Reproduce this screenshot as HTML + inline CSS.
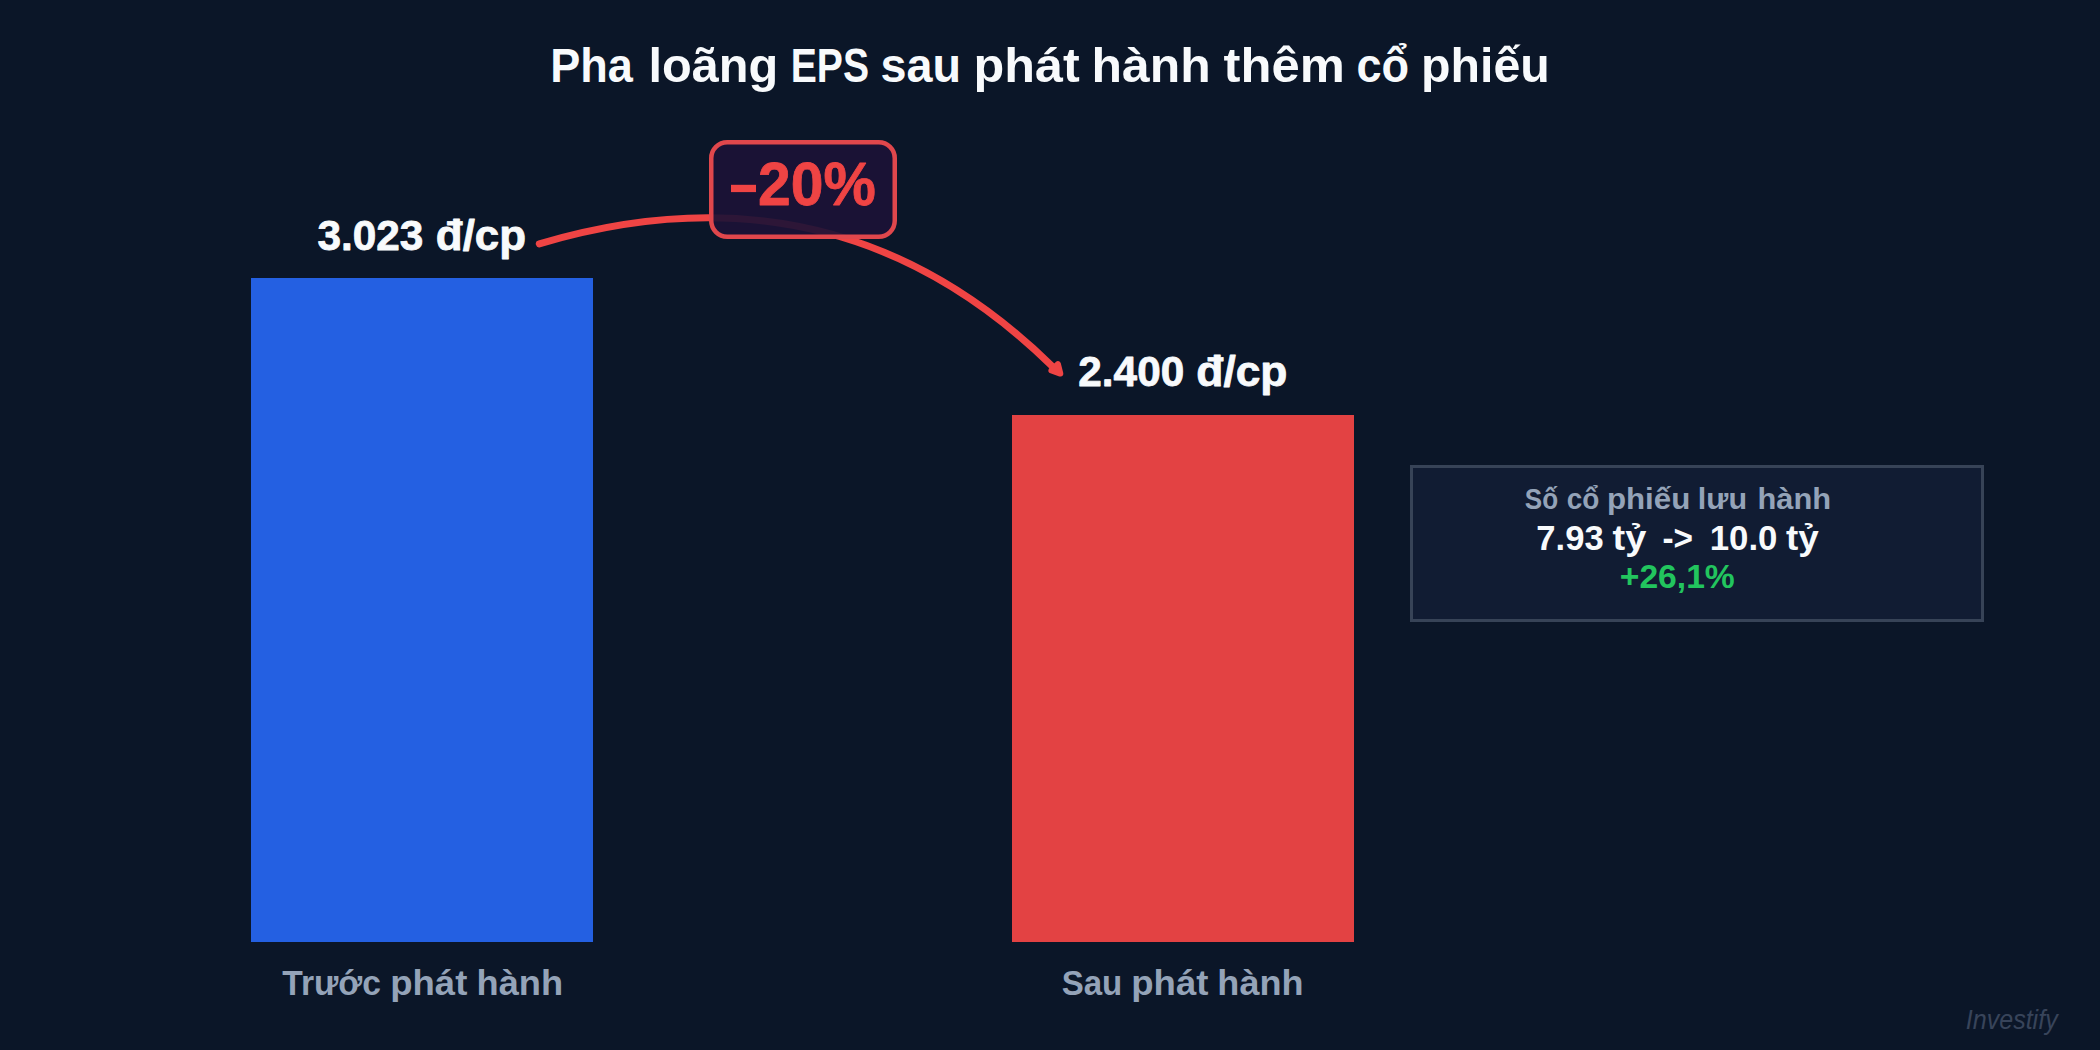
<!DOCTYPE html>
<html><head><meta charset="utf-8">
<style>
html,body{margin:0;padding:0;background:#0b1628;}
body{width:2100px;height:1050px;overflow:hidden;}
svg{display:block;}
text{font-family:"Liberation Sans",sans-serif;}
</style></head>
<body>
<svg width="2100" height="1050" viewBox="0 0 2100 1050">
<rect x="0" y="0" width="2100" height="1050" fill="#0b1628"/>
<rect x="251" y="278" width="342" height="664" fill="#2460e2"/>
<rect x="1012" y="415" width="342" height="527" fill="#e34243"/>
<path d="M539.3,243.8 Q837.6,155.4 1053,367" fill="none" stroke="#ef4444" stroke-width="7" stroke-linecap="round"/>
<polygon points="1060.3,373.6 1051.4,370.5 1057.9,364.1" fill="#ef4444" stroke="#ef4444" stroke-width="6" stroke-linejoin="round"/>
<rect x="711.25" y="142.25" width="183.5" height="94.5" rx="16" ry="16" fill="#1c1236" fill-opacity="0.92" stroke="#e0474c" stroke-width="4.5"/>
<rect x="731" y="184.8" width="25" height="7.3" fill="#ef4444"/>
<rect x="1411.5" y="466.5" width="571" height="154" fill="#111c33" stroke="#374357" stroke-width="3"/>
<text x="591.62" y="82.2" text-anchor="middle" font-size="48" font-weight="700" fill="#f8fafc" textLength="82.63" lengthAdjust="spacingAndGlyphs">Pha</text>
<text x="713.36" y="82.2" text-anchor="middle" font-size="48" font-weight="700" fill="#f8fafc" textLength="129.76" lengthAdjust="spacingAndGlyphs">loãng</text>
<text x="829.88" y="82.2" text-anchor="middle" font-size="48" font-weight="700" fill="#f8fafc" textLength="78.29" lengthAdjust="spacingAndGlyphs">EPS</text>
<text x="920.87" y="82.2" text-anchor="middle" font-size="48" font-weight="700" fill="#f8fafc" textLength="80.56" lengthAdjust="spacingAndGlyphs">sau</text>
<text x="1026.63" y="82.2" text-anchor="middle" font-size="48" font-weight="700" fill="#f8fafc" textLength="106.19" lengthAdjust="spacingAndGlyphs">phát</text>
<text x="1151.09" y="82.2" text-anchor="middle" font-size="48" font-weight="700" fill="#f8fafc" textLength="119.12" lengthAdjust="spacingAndGlyphs">hành</text>
<text x="1284.17" y="82.2" text-anchor="middle" font-size="48" font-weight="700" fill="#f8fafc" textLength="121.21" lengthAdjust="spacingAndGlyphs">thêm</text>
<text x="1382.77" y="82.2" text-anchor="middle" font-size="48" font-weight="700" fill="#f8fafc" textLength="52.61" lengthAdjust="spacingAndGlyphs">cổ</text>
<text x="1485.47" y="82.2" text-anchor="middle" font-size="48" font-weight="700" fill="#f8fafc" textLength="128.80" lengthAdjust="spacingAndGlyphs">phiếu</text>
<text x="370.35" y="249.9" text-anchor="middle" font-size="42.4" font-weight="700" fill="#f8fafc" stroke="#f8fafc" stroke-width="0.8" stroke-linejoin="round" textLength="105.94" lengthAdjust="spacingAndGlyphs">3.023</text>
<text x="480.95" y="249.9" text-anchor="middle" font-size="42.4" font-weight="700" fill="#f8fafc" stroke="#f8fafc" stroke-width="0.8" stroke-linejoin="round" textLength="90.23" lengthAdjust="spacingAndGlyphs">đ/cp</text>
<text x="1131.27" y="385.7" text-anchor="middle" font-size="42.4" font-weight="700" fill="#f8fafc" stroke="#f8fafc" stroke-width="0.8" stroke-linejoin="round" textLength="105.86" lengthAdjust="spacingAndGlyphs">2.400</text>
<text x="1241.89" y="385.7" text-anchor="middle" font-size="42.4" font-weight="700" fill="#f8fafc" stroke="#f8fafc" stroke-width="0.8" stroke-linejoin="round" textLength="91.13" lengthAdjust="spacingAndGlyphs">đ/cp</text>
<text x="816.84" y="204.8" text-anchor="middle" font-size="61.6" font-weight="700" fill="#ef4444" stroke="#ef4444" stroke-width="0.8" stroke-linejoin="round" textLength="117.77" lengthAdjust="spacingAndGlyphs">20%</text>
<text x="1541.49" y="508.9" text-anchor="middle" font-size="29.8" font-weight="700" fill="#94a3b8" textLength="33.30" lengthAdjust="spacingAndGlyphs">Số</text>
<text x="1583.04" y="508.9" text-anchor="middle" font-size="29.8" font-weight="700" fill="#94a3b8" textLength="32.65" lengthAdjust="spacingAndGlyphs">cổ</text>
<text x="1648.63" y="508.9" text-anchor="middle" font-size="29.8" font-weight="700" fill="#94a3b8" textLength="83.43" lengthAdjust="spacingAndGlyphs">phiếu</text>
<text x="1722.44" y="508.9" text-anchor="middle" font-size="29.8" font-weight="700" fill="#94a3b8" textLength="49.20" lengthAdjust="spacingAndGlyphs">lưu</text>
<text x="1794.33" y="508.9" text-anchor="middle" font-size="29.8" font-weight="700" fill="#94a3b8" textLength="73.64" lengthAdjust="spacingAndGlyphs">hành</text>
<text x="1569.96" y="550" text-anchor="middle" font-size="34.5" font-weight="700" fill="#f8fafc" textLength="67.37" lengthAdjust="spacingAndGlyphs">7.93</text>
<text x="1629.43" y="550" text-anchor="middle" font-size="34.5" font-weight="700" fill="#f8fafc" textLength="33.77" lengthAdjust="spacingAndGlyphs">tỷ</text>
<text x="1677.78" y="550" text-anchor="middle" font-size="34.5" font-weight="700" fill="#f8fafc" textLength="30.55" lengthAdjust="spacingAndGlyphs">-&gt;</text>
<text x="1743.57" y="550" text-anchor="middle" font-size="34.5" font-weight="700" fill="#f8fafc" textLength="67.76" lengthAdjust="spacingAndGlyphs">10.0</text>
<text x="1802.34" y="550" text-anchor="middle" font-size="34.5" font-weight="700" fill="#f8fafc" textLength="32.79" lengthAdjust="spacingAndGlyphs">tỷ</text>
<text x="1677.26" y="587.5" text-anchor="middle" font-size="34.1" font-weight="700" fill="#22c55e" textLength="115.00" lengthAdjust="spacingAndGlyphs">+26,1%</text>
<text x="331.60" y="995" text-anchor="middle" font-size="35" font-weight="700" fill="#94a3b8" textLength="98.75" lengthAdjust="spacingAndGlyphs">Trước</text>
<text x="428.75" y="995" text-anchor="middle" font-size="35" font-weight="700" fill="#94a3b8" textLength="77.14" lengthAdjust="spacingAndGlyphs">phát</text>
<text x="519.84" y="995" text-anchor="middle" font-size="35" font-weight="700" fill="#94a3b8" textLength="86.62" lengthAdjust="spacingAndGlyphs">hành</text>
<text x="1092.01" y="995" text-anchor="middle" font-size="35" font-weight="700" fill="#94a3b8" textLength="60.62" lengthAdjust="spacingAndGlyphs">Sau</text>
<text x="1169.81" y="995" text-anchor="middle" font-size="35" font-weight="700" fill="#94a3b8" textLength="77.18" lengthAdjust="spacingAndGlyphs">phát</text>
<text x="1260.46" y="995" text-anchor="middle" font-size="35" font-weight="700" fill="#94a3b8" textLength="86.25" lengthAdjust="spacingAndGlyphs">hành</text>
<text x="2011.73" y="1029" text-anchor="middle" font-size="27" font-weight="400" font-style="italic" fill="#38445a" textLength="91.89" lengthAdjust="spacingAndGlyphs">Investify</text>
</svg>
</body></html>
